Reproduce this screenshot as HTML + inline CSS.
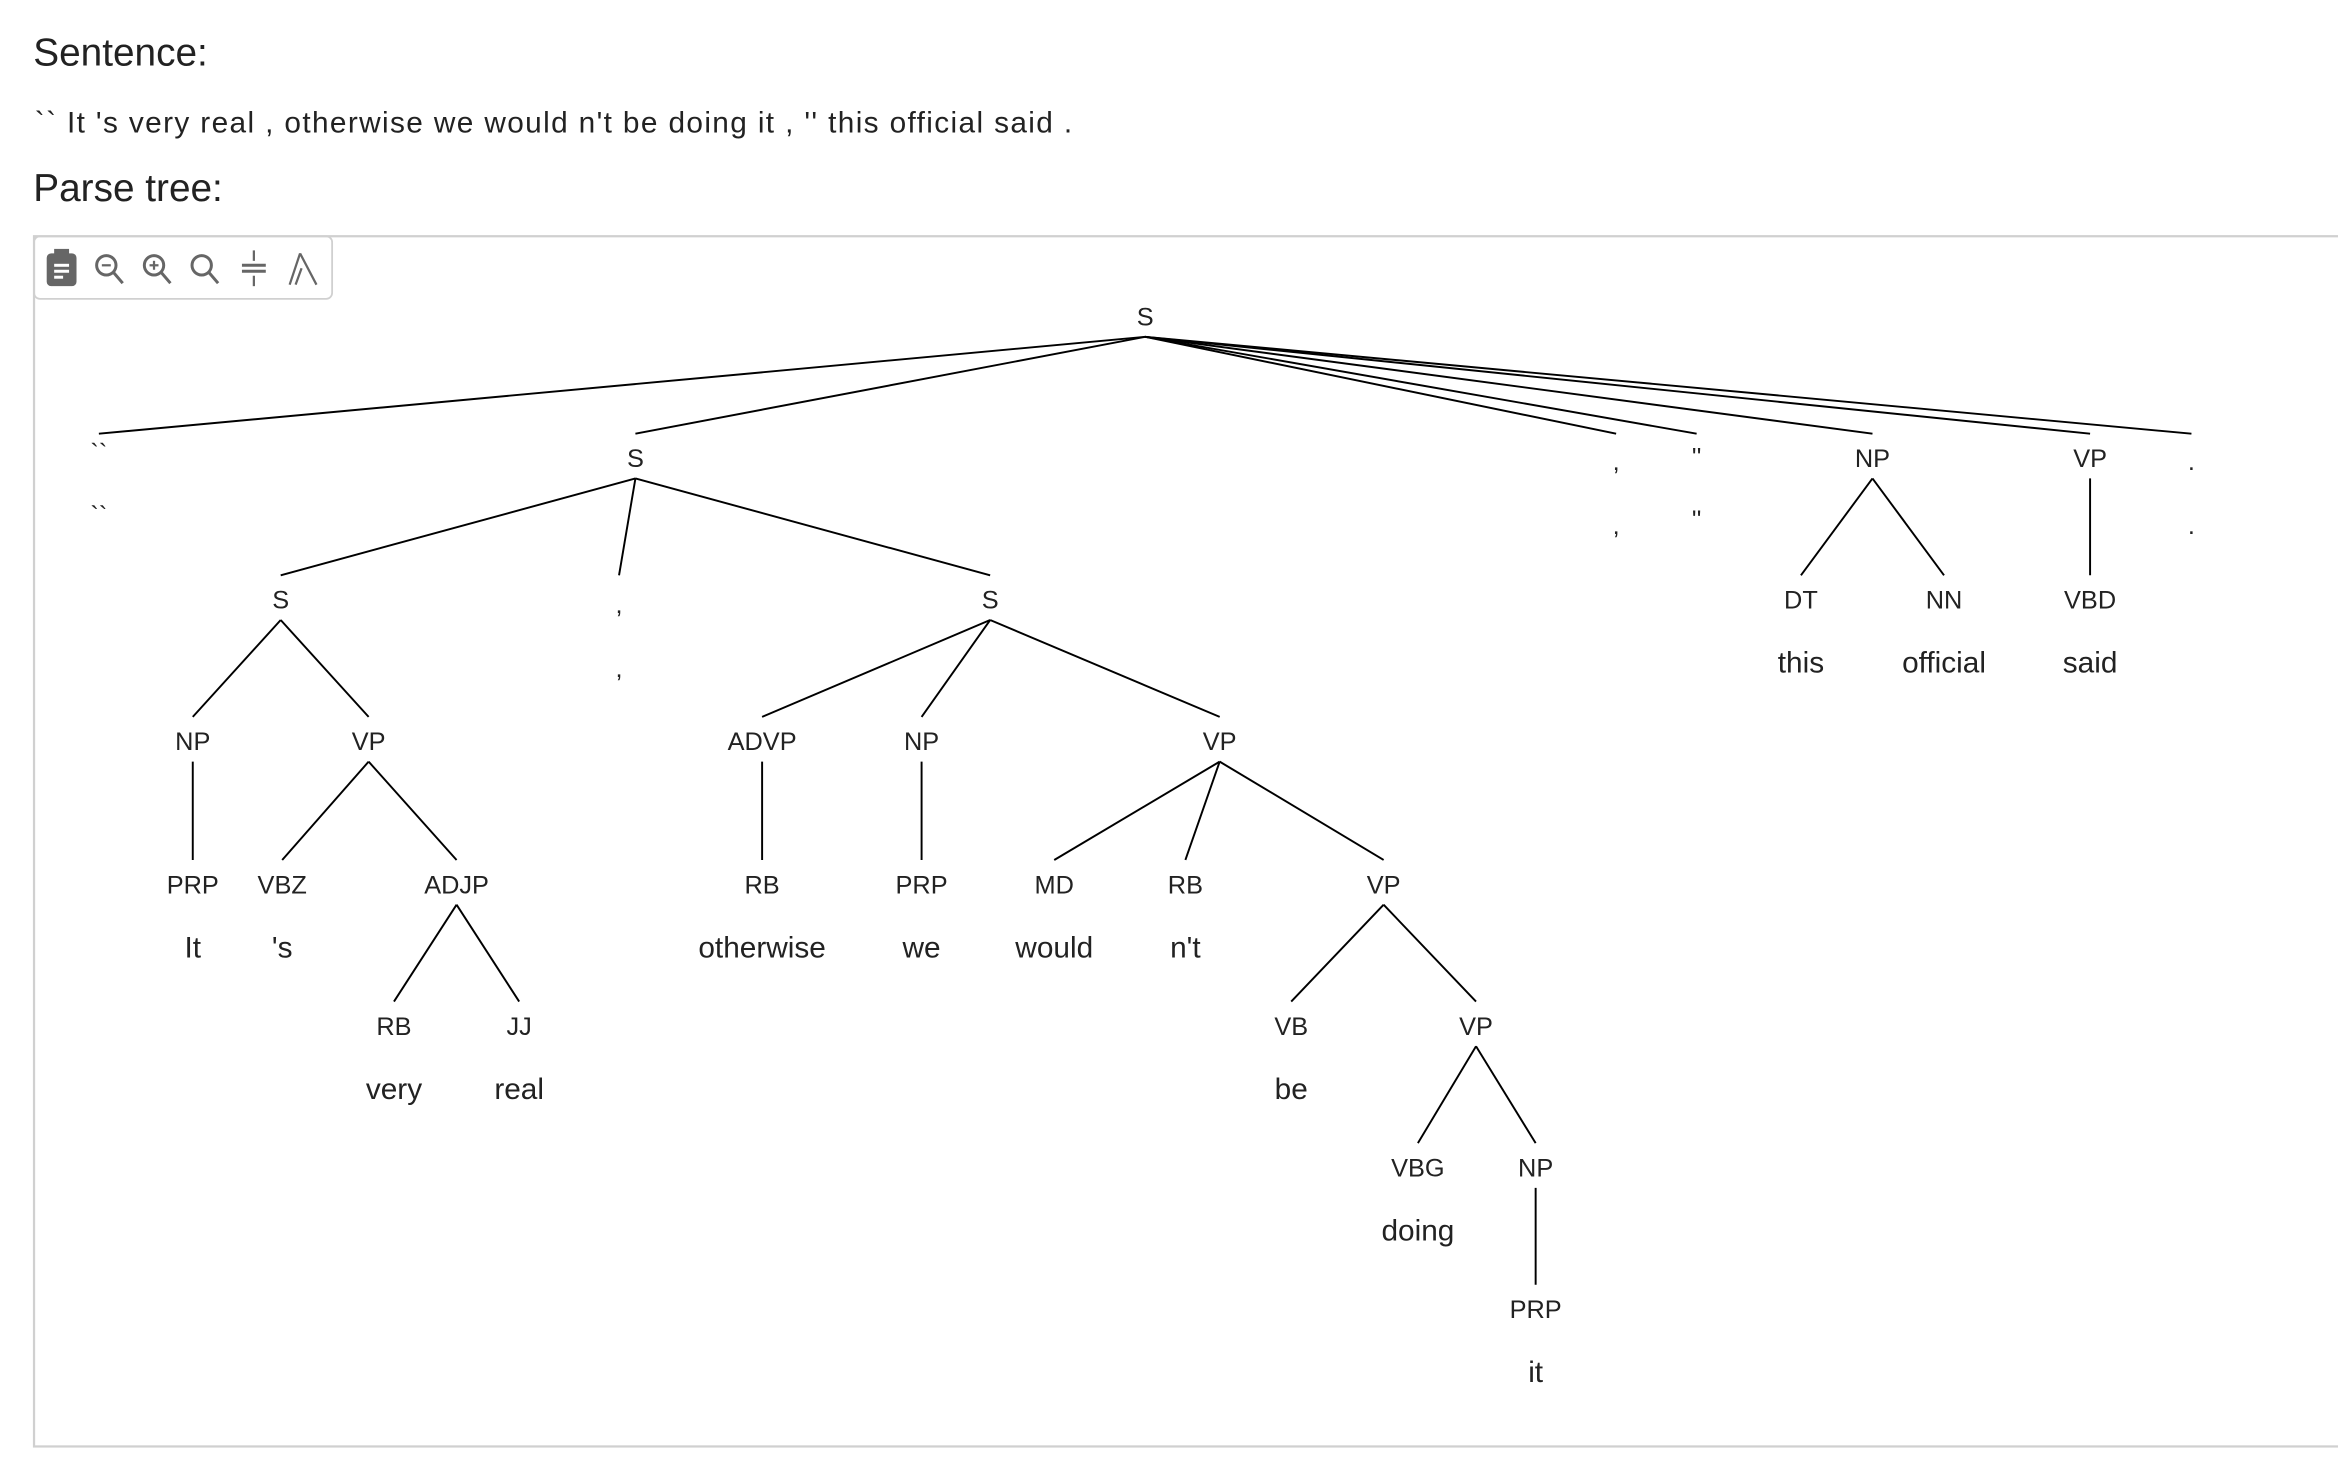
<!DOCTYPE html>
<html><head><meta charset="utf-8"><style>
html,body{margin:0;padding:0;background:#fff;width:2338px;height:1480px;overflow:hidden}
svg{display:block}
text{font-family:"Liberation Sans",sans-serif;fill:#222}
.c{font-size:17px;text-anchor:middle;dominant-baseline:central}
.w{font-size:20px;text-anchor:middle;dominant-baseline:central}
line{stroke:#000;stroke-width:1.3}
</style></head><body>
<svg width="2338" height="1480" viewBox="0 0 1568 993" xmlns="http://www.w3.org/2000/svg">
<text x="22" y="44" style="font-size:26px">Sentence:</text>
<text x="23" y="89" style="font-size:20px" textLength="696" lengthAdjust="spacing">`` It 's very real , otherwise we would n't be doing it , '' this official said .</text>
<text x="22" y="135" style="font-size:26px">Parse tree:</text>
<rect x="22.5" y="158.5" width="1560" height="812" fill="none" stroke="#d0d0d0" stroke-width="1.5"/>
<rect x="22.5" y="158.5" width="200" height="42" rx="4" fill="none" stroke="#d0d0d0" stroke-width="1.2"/>
<g fill="none" stroke="#666" stroke-width="2">
<rect x="32" y="171" width="18" height="20" rx="2" fill="#666"/>
<rect x="37" y="168" width="8" height="4" fill="#666"/>
<line x1="36" y1="178" x2="46" y2="178" style="stroke:#fff;stroke-width:2"/>
<line x1="36" y1="182" x2="46" y2="182" style="stroke:#fff;stroke-width:2"/>
<line x1="36" y1="186" x2="42" y2="186" style="stroke:#fff;stroke-width:2"/>
<circle cx="71" cy="178" r="6.5"/><line x1="76" y1="183" x2="82" y2="190" style="stroke:#666;stroke-width:2"/><line x1="68" y1="178" x2="74" y2="178" style="stroke:#666;stroke-width:1.5"/>
<circle cx="103" cy="178" r="6.5"/><line x1="108" y1="183" x2="114" y2="190" style="stroke:#666;stroke-width:2"/><line x1="100" y1="178" x2="106" y2="178" style="stroke:#666;stroke-width:1.5"/><line x1="103" y1="175" x2="103" y2="181" style="stroke:#666;stroke-width:1.5"/>
<circle cx="135" cy="178" r="6.5"/><line x1="140" y1="183" x2="146" y2="190" style="stroke:#666;stroke-width:2"/>
<line x1="162" y1="178" x2="178" y2="178" style="stroke:#666;stroke-width:2"/><line x1="162" y1="182" x2="178" y2="182" style="stroke:#666;stroke-width:2"/>
<line x1="170" y1="168" x2="170" y2="175" style="stroke:#666;stroke-width:1.5"/><line x1="170" y1="185" x2="170" y2="192" style="stroke:#666;stroke-width:1.5"/>
<line x1="194" y1="191" x2="201" y2="170" style="stroke:#666;stroke-width:1.5"/><line x1="201" y1="170" x2="212" y2="191" style="stroke:#666;stroke-width:1.5"/><line x1="202" y1="180" x2="198" y2="191" style="stroke:#666;stroke-width:1.5"/>
</g>
<g>
<line x1="768" y1="226" x2="66" y2="291"/><line x1="768" y1="226" x2="426" y2="291"/>
<line x1="768" y1="226" x2="1084" y2="291"/><line x1="768" y1="226" x2="1138" y2="291"/>
<line x1="768" y1="226" x2="1256" y2="291"/><line x1="768" y1="226" x2="1402" y2="291"/>
<line x1="768" y1="226" x2="1470" y2="291"/>
<line x1="426" y1="321" x2="188" y2="386"/><line x1="426" y1="321" x2="415" y2="386"/><line x1="426" y1="321" x2="664" y2="386"/>
<line x1="188" y1="416" x2="129" y2="481"/><line x1="188" y1="416" x2="247" y2="481"/>
<line x1="129" y1="511" x2="129" y2="577"/>
<line x1="247" y1="511" x2="189" y2="577"/><line x1="247" y1="511" x2="306" y2="577"/>
<line x1="306" y1="607" x2="264" y2="672"/><line x1="306" y1="607" x2="348" y2="672"/>
<line x1="664" y1="416" x2="511" y2="481"/><line x1="664" y1="416" x2="618" y2="481"/><line x1="664" y1="416" x2="818" y2="481"/>
<line x1="511" y1="511" x2="511" y2="577"/><line x1="618" y1="511" x2="618" y2="577"/>
<line x1="818" y1="511" x2="707" y2="577"/><line x1="818" y1="511" x2="795" y2="577"/><line x1="818" y1="511" x2="928" y2="577"/>
<line x1="928" y1="607" x2="866" y2="672"/><line x1="928" y1="607" x2="990" y2="672"/>
<line x1="990" y1="702" x2="951" y2="767"/><line x1="990" y1="702" x2="1030" y2="767"/>
<line x1="1030" y1="797" x2="1030" y2="862"/>
<line x1="1256" y1="321" x2="1208" y2="386"/><line x1="1256" y1="321" x2="1304" y2="386"/>
<line x1="1402" y1="321" x2="1402" y2="386"/>
</g>
<g>
<text class="c" x="768" y="213">S</text>
<text class="c" x="66" y="304">``</text><text class="c" x="66" y="346">``</text>
<text class="c" x="426" y="308">S</text>
<text class="c" x="1084" y="310">,</text><text class="c" x="1084" y="353">,</text>
<text class="c" x="1138" y="307">''</text><text class="c" x="1138" y="349">''</text>
<text class="c" x="1256" y="308">NP</text><text class="c" x="1402" y="308">VP</text>
<text class="c" x="1470" y="310">.</text><text class="c" x="1470" y="353">.</text>
<text class="c" x="188" y="403">S</text><text class="c" x="415" y="406">,</text><text class="c" x="415" y="449">,</text><text class="c" x="664" y="403">S</text>
<text class="c" x="1208" y="403">DT</text><text class="c" x="1304" y="403">NN</text><text class="c" x="1402" y="403">VBD</text>
<text class="c" x="129" y="498">NP</text><text class="c" x="247" y="498">VP</text>
<text class="c" x="511" y="498">ADVP</text><text class="c" x="618" y="498">NP</text><text class="c" x="818" y="498">VP</text>
<text class="c" x="129" y="594">PRP</text><text class="c" x="189" y="594">VBZ</text><text class="c" x="306" y="594">ADJP</text>
<text class="c" x="511" y="594">RB</text><text class="c" x="618" y="594">PRP</text><text class="c" x="707" y="594">MD</text><text class="c" x="795" y="594">RB</text><text class="c" x="928" y="594">VP</text>
<text class="c" x="264" y="689">RB</text><text class="c" x="348" y="689">JJ</text><text class="c" x="866" y="689">VB</text><text class="c" x="990" y="689">VP</text>
<text class="c" x="951" y="784">VBG</text><text class="c" x="1030" y="784">NP</text>
<text class="c" x="1030" y="879">PRP</text>
</g>
<text class="w" x="1208" y="445">this</text><text class="w" x="1304" y="445">official</text><text class="w" x="1402" y="445">said</text>
<text class="w" x="129" y="636">It</text><text class="w" x="189" y="636">'s</text><text class="w" x="511" y="636">otherwise</text><text class="w" x="618" y="636">we</text><text class="w" x="707" y="636">would</text><text class="w" x="795" y="636">n't</text>
<text class="w" x="264" y="731">very</text><text class="w" x="348" y="731">real</text><text class="w" x="866" y="731">be</text>
<text class="w" x="951" y="826">doing</text><text class="w" x="1030" y="921">it</text>
</svg>
</body></html>
